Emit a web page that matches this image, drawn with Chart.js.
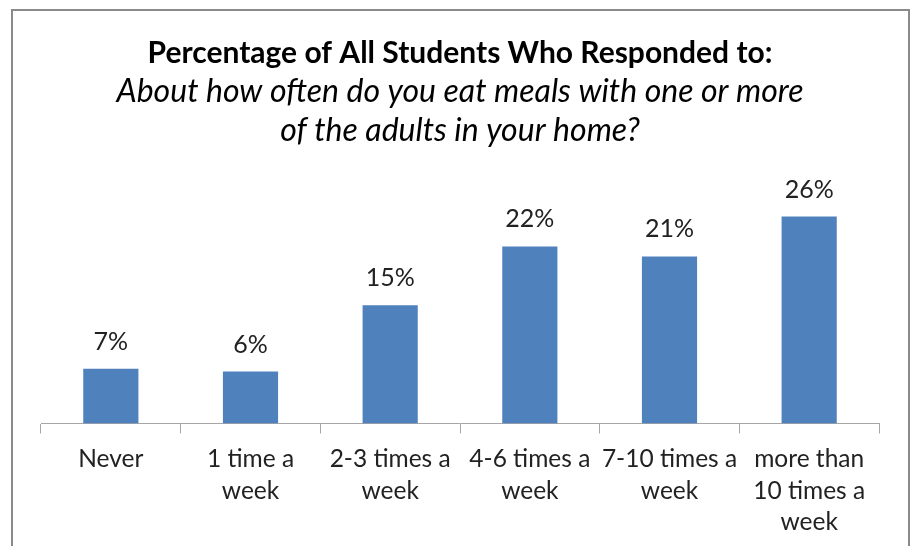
<!DOCTYPE html>
<html>
<head>
<meta charset="utf-8">
<script src="https://cdn.jsdelivr.net/npm/chart.js@4/dist/chart.umd.min.js"></script>
<style>
html,body{margin:0;padding:0;background:#fff;}
#wrap{width:913px;height:546px;position:relative;}
</style>
</head>
<body>
<div id="wrap"><canvas id="c" width="913" height="546"></canvas></div>
<script>
const categories = [
  ["Never"],
  ["1 time a", "week"],
  ["2-3 times a", "week"],
  ["4-6 times a", "week"],
  ["7-10 times a", "week"],
  ["more than", "10 times a", "week"]
];
const percentages = [6.8, 6.45, 14.7, 22.0, 20.75, 25.7];
const titleText = "Percentage of All Students Who Responded to:";
const subtitleLines = [
  "About how often do you eat meals with one or more",
  "of the adults in your home?"
];

const FONT = "Lato, 'Open Sans', sans-serif";

const framePlugin = {
  id: 'frame',
  beforeDraw(chart) {
    const ctx = chart.ctx;
    ctx.save();
    ctx.fillStyle = '#ffffff';
    ctx.fillRect(0, 0, chart.width, chart.height);
    ctx.strokeStyle = '#8a8a8a';
    ctx.lineWidth = 2;
    ctx.beginPath();
    ctx.moveTo(12, chart.height + 5);
    ctx.lineTo(12, 10);
    ctx.lineTo(909, 10);
    ctx.lineTo(909, chart.height + 5);
    ctx.stroke();
    ctx.restore();
  }
};

const valueLabels = {
  id: 'valueLabels',
  afterDatasetsDraw(chart) {
    const ctx = chart.ctx;
    const meta = chart.getDatasetMeta(0);
    const data = chart.data.datasets[0].data;
    ctx.save();
    ctx.font = "25px " + FONT;
    ctx.fillStyle = '#222222';
    ctx.textAlign = 'center';
    ctx.textBaseline = 'alphabetic';
    meta.data.forEach((bar, i) => {
      ctx.fillText(Math.round(data[i]) + '%', bar.x, bar.y - 19);
    });
    ctx.restore();
  }
};

new Chart(document.getElementById('c'), {
  type: 'bar',
  data: {
    labels: categories,
    datasets: [{
      data: percentages,
      backgroundColor: '#4F81BD',
      borderWidth: 0,
      categoryPercentage: 1.0,
      barPercentage: 0.395
    }]
  },
  options: {
    responsive: false,
    animation: false,
    devicePixelRatio: 1,
    layout: { padding: { left: 41, right: 34, top: 0, bottom: -2 } },
    plugins: {
      legend: { display: false },
      tooltip: { enabled: false },
      title: {
        display: true,
        text: titleText,
        color: '#000000',
        font: { family: FONT, size: 30, weight: 'bold', lineHeight: 39 / 30 },
        padding: { top: 34, bottom: 0 }
      },
      subtitle: {
        display: true,
        text: subtitleLines,
        color: '#000000',
        font: { family: FONT, size: 32, style: 'italic', lineHeight: 39 / 32 },
        padding: { top: -1, bottom: 32 }
      }
    },
    scales: {
      y: {
        display: false,
        min: 0,
        max: 30
      },
      x: {
        grid: {
          display: true,
          drawOnChartArea: false,
          drawTicks: true,
          tickLength: 10,
          color: '#a6a6a6',
          offset: true
        },
        border: { display: true, color: '#a6a6a6', width: 1 },
        ticks: {
          autoSkip: false,
          maxRotation: 0,
          minRotation: 0,
          padding: 10,
          color: '#222222',
          font: { family: FONT, size: 24.5, lineHeight: 31.5 / 24.5 }
        }
      }
    }
  },
  plugins: [framePlugin, valueLabels]
});
</script>
</body>
</html>
